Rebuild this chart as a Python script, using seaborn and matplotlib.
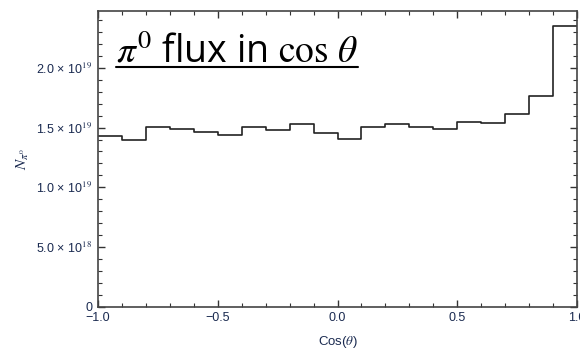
import numpy as np
import pandas as pd
import seaborn as sns
import matplotlib.pyplot as plt
from matplotlib.ticker import MultipleLocator, FuncFormatter

# cos(theta) bin edges and pi0 counts per bin
bin_edges = [-1.0, -0.9, -0.8, -0.7, -0.6, -0.5, -0.4, -0.3, -0.2, -0.1, 0.0,
             0.1, 0.2, 0.3, 0.4, 0.5, 0.6, 0.7, 0.8, 0.9, 1.0]
n_pi0 = [1.427e19, 1.396e19, 1.508e19, 1.491e19, 1.466e19, 1.435e19, 1.508e19,
         1.477e19, 1.530e19, 1.457e19, 1.404e19, 1.508e19, 1.530e19, 1.508e19,
         1.488e19, 1.549e19, 1.539e19, 1.614e19, 1.767e19, 2.353e19]
x_ticks = [-1.0, -0.5, 0.0, 0.5, 1.0]
y_ticks = [0, 5e18, 1e19, 1.5e19, 2e19]

centers = [(a + b) / 2 for a, b in zip(bin_edges[:-1], bin_edges[1:])]
df = pd.DataFrame({"cos": centers, "n": n_pi0})

sns.set_style("ticks")
plt.rcParams["font.family"] = ["Liberation Sans", "DejaVu Sans"]
plt.rcParams["mathtext.fontset"] = "stix"

fig = plt.figure(figsize=(5.8, 3.51), dpi=100)
ax = fig.add_axes([98 / 580, 1 - 306.7 / 351, 479 / 580, 295.7 / 351])

sns.histplot(data=df, x="cos", weights="n", bins=bin_edges, element="step",
             fill=False, color="#222222", linewidth=1.2, ax=ax)

ax.set_xlim(-1.0, 1.0)
ax.set_ylim(0, 2.476e19)
ax.set_xticks(x_ticks)
ax.set_yticks(y_ticks)
ax.xaxis.set_minor_locator(MultipleLocator(0.1))
ax.yaxis.set_minor_locator(MultipleLocator(1e18))


def sci_fmt(v, pos):
    if v == 0:
        return "0"
    e = int(np.floor(np.log10(v)))
    m = v / 10 ** e
    return f"{m:.1f} × 10$^{{{e}}}$"


ax.yaxis.set_major_formatter(FuncFormatter(sci_fmt))
ax.xaxis.set_major_formatter(FuncFormatter(lambda v, p: f"{v:.1f}".replace("-", "−")))

ax.tick_params(which="both", direction="in", top=True, right=True,
               color="#333333", labelsize=9, labelcolor="#1a2a50")
ax.tick_params(which="major", length=5, width=1, pad=4)
ax.tick_params(which="minor", length=3, width=0.8)
for s in ax.spines.values():
    s.set_color("#444444")
    s.set_linewidth(1.2)

ax.set_xlabel("Cos($\\mathit{\\theta}$)", fontsize=9.5, color="#1a2a50", labelpad=7)
ax.set_ylabel("$N_{\\pi^0}$", fontsize=11, color="#1a2a50", labelpad=4)

title = ax.text(0.038, 0.825, "$\\pi^0$ flux in $\\cos\\,\\theta$", transform=ax.transAxes,
                fontsize=27, family=["Open Sans", "DejaVu Sans"], color="black",
                ha="left", va="baseline")
fig.canvas.draw()
bb = title.get_window_extent().transformed(ax.transAxes.inverted())
ax.plot([bb.x0, bb.x1], [0.825 - 0.013, 0.825 - 0.013], transform=ax.transAxes,
        color="black", linewidth=1.5)

fig.savefig("out.png", dpi=100)
